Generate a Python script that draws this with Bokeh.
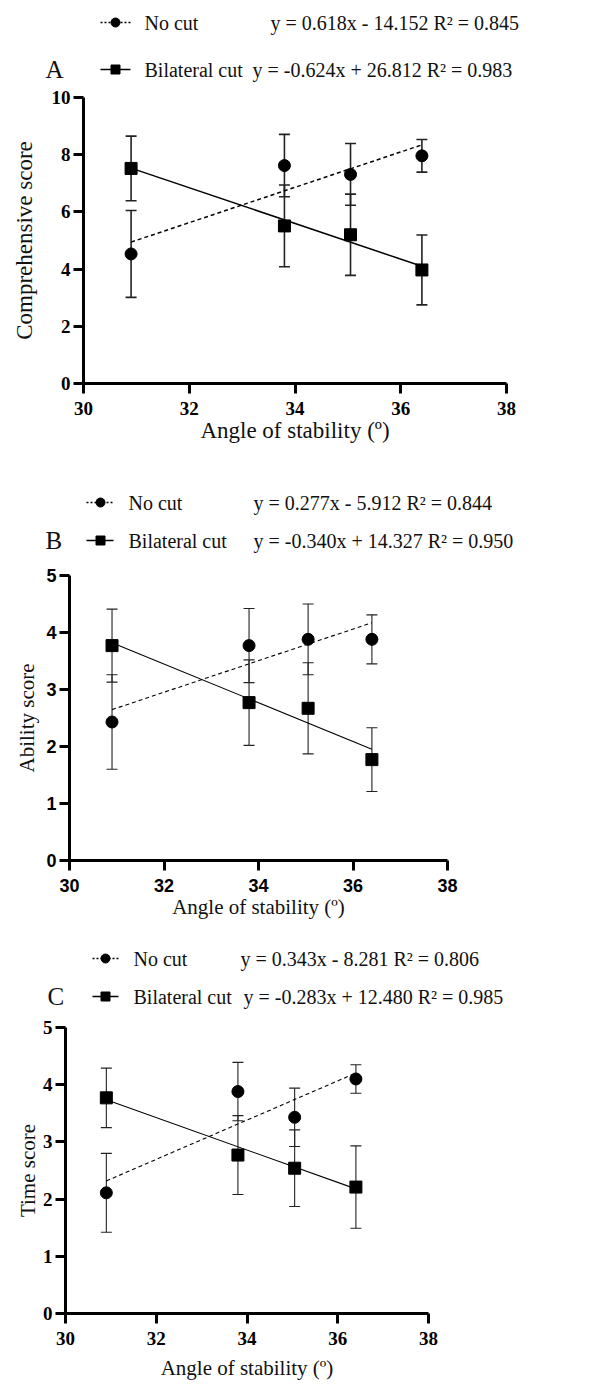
from bokeh.plotting import figure
from bokeh.models import Range1d, Whisker, TeeHead, ColumnDataSource, FixedTicker
from bokeh.layouts import column, row
from bokeh.embed import file_html
from bokeh.resources import INLINE
from bokeh.core.properties import value

# ---------------- data ----------------
angle = [30.9, 33.8, 35.05, 36.4]
series_names = ["No cut", "Bilateral cut"]

# Panel A: comprehensive score
a_nocut_mean = [4.53, 7.62, 7.31, 7.96]
a_nocut_sd = [1.52, 1.09, 1.08, 0.57]
a_bilat_mean = [7.52, 5.51, 5.20, 3.97]
a_bilat_sd = [1.13, 1.43, 1.42, 1.22]
a_fit_nocut = (0.618, -14.152)
a_fit_bilat = (-0.624, 26.812)
a_eq = ["y = 0.618x - 14.152  R\u00b2 = 0.845", "y = -0.624x + 26.812 R\u00b2 = 0.983"]

# Panel B: ability score
b_nocut_mean = [2.43, 3.77, 3.88, 3.88]
b_nocut_sd = [0.83, 0.65, 0.62, 0.43]
b_bilat_mean = [3.77, 2.77, 2.67, 1.77]
b_bilat_sd = [0.64, 0.75, 0.80, 0.56]
b_fit_nocut = (0.277, -5.912)
b_fit_bilat = (-0.340, 14.327)
b_eq = ["y = 0.277x - 5.912 R\u00b2 = 0.844", "y = -0.340x + 14.327 R\u00b2 = 0.950"]

# Panel C: time score
c_nocut_mean = [2.11, 3.88, 3.43, 4.10]
c_nocut_sd = [0.69, 0.51, 0.51, 0.25]
c_bilat_mean = [3.77, 2.77, 2.54, 2.21]
c_bilat_sd = [0.52, 0.69, 0.67, 0.72]
c_fit_nocut = (0.343, -8.281)
c_fit_bilat = (-0.283, 12.480)
c_eq = ["y = 0.343x - 8.281 R\u00b2 = 0.806", "y = -0.283x + 12.480 R\u00b2 = 0.985"]

x_ticks = [30, 32, 34, 36, 38]
x_label = "Angle of stability (\u00ba)"

SERIF = "Liberation Serif"
SANS = "Liberation Sans"


def make_legend(h, letter, letter_x, rows_y, mark_x, line_x0, line_x1, text_x, eq_x, eqs):
    p = figure(width=594, height=h, x_range=Range1d(0, 594), y_range=Range1d(h, 0),
               output_backend="svg", toolbar_location=None, min_border=0,
               x_axis_location=None, y_axis_location=None)
    p.grid.visible = False
    p.outline_line_color = None
    dashes = ["2 2", "solid"]
    markers = ["circle", "square"]
    for i in range(2):
        p.line([line_x0, line_x1], [rows_y[i], rows_y[i]], line_color="black",
               line_width=1.3, line_dash=dashes[i])
        p.scatter([mark_x], [rows_y[i]], marker=markers[i], size=9, color="black")
    p.text(x=[text_x, text_x], y=rows_y, text=series_names, text_font=value(SERIF),
           text_font_size="20px", text_baseline="middle", text_color="#111111")
    p.text(x=eq_x, y=rows_y, text=eqs, text_font=value(SERIF),
           text_font_size="20px", text_baseline="middle", text_color="#111111")
    p.text(x=[letter_x], y=[rows_y[1]], text=[letter], text_font=value(SERIF),
           text_font_size="25px", text_baseline="middle", text_color="#111111")
    return p


def make_plot(h, ymax, ystep, ylabel, nc_m, nc_sd, bc_m, bc_sd, fit_nc, fit_bc,
              tick_font, tick_size, label_size, b_top, b_left, b_right, b_bottom,
              ylab_standoff, xtick_standoff, xlab_standoff, lw_err, lw_fit):
    p = figure(width=594, height=h, x_range=Range1d(30, 38), y_range=Range1d(0, ymax),
               output_backend="svg", toolbar_location=None,
               min_border_top=b_top, min_border_left=b_left,
               min_border_right=b_right, min_border_bottom=b_bottom)
    p.grid.visible = False
    p.outline_line_color = None
    p.xaxis.ticker = FixedTicker(ticks=x_ticks)
    p.yaxis.ticker = FixedTicker(ticks=list(range(0, ymax + 1, ystep)))
    for ax in (p.xaxis[0], p.yaxis[0]):
        ax.axis_line_width = 3
        ax.axis_line_color = "black"
        ax.major_tick_line_width = 3
        ax.major_tick_line_color = "black"
        ax.major_tick_in = 0
        ax.major_tick_out = 10
        ax.minor_tick_line_color = None
        ax.major_label_text_font = tick_font
        ax.major_label_text_font_style = "bold"
        ax.major_label_text_font_size = tick_size
        ax.major_label_text_color = "black"
        ax.axis_label_text_font = SERIF
        ax.axis_label_text_font_style = "normal"
        ax.axis_label_text_font_size = label_size
        ax.axis_label_text_color = "#111111"
    p.xaxis.axis_label = x_label
    p.yaxis.axis_label = ylabel
    p.yaxis.major_label_standoff = 3
    p.xaxis.major_label_standoff = xtick_standoff
    p.yaxis.axis_label_standoff = ylab_standoff
    p.xaxis.axis_label_standoff = xlab_standoff

    # fitted lines
    x0, x1 = angle[0], angle[-1]
    p.line([x0, x1], [fit_nc[0] * x0 + fit_nc[1], fit_nc[0] * x1 + fit_nc[1]],
           line_color="black", line_width=lw_fit, line_dash="4 3")
    p.line([x0, x1], [fit_bc[0] * x0 + fit_bc[1], fit_bc[0] * x1 + fit_bc[1]],
           line_color="black", line_width=lw_fit)

    for m, sd, mk in ((nc_m, nc_sd, "circle"), (bc_m, bc_sd, "square")):
        src = ColumnDataSource(dict(x=angle, y=m,
                                    upper=[a + b for a, b in zip(m, sd)],
                                    lower=[a - b for a, b in zip(m, sd)]))
        w = Whisker(base="x", upper="upper", lower="lower", source=src,
                    dimension="height", line_width=lw_err, line_color="#222222",
                    upper_head=TeeHead(size=11, line_width=lw_err, line_color="#222222"),
                    lower_head=TeeHead(size=11, line_width=lw_err, line_color="#222222"))
        p.add_layout(w)
        p.scatter("x", "y", source=src, marker=mk, size=12, color="black")
    return p


legA = make_legend(85, "A", 45, [22, 69], 115, 100, 130, 144, [270, 252], a_eq)
plotA = make_plot(380, 10, 2, "Comprehensive score", a_nocut_mean, a_nocut_sd,
                  a_bilat_mean, a_bilat_sd, a_fit_nocut, a_fit_bilat,
                  SERIF, "19px", "23px", 12, 83, 88, 82, 12, 8, 0, 1.6, 1.5)

legB = make_legend(95, "B", 45, [37, 75], 100, 86, 113, 128, [253, 253], b_eq)
plotB = make_plot(380, 5, 1, "Ability score", b_nocut_mean, b_nocut_sd,
                  b_bilat_mean, b_bilat_sd, b_fit_nocut, b_fit_bilat,
                  SANS, "18px", "21px", 15, 69, 147, 80, 4, 8, 0, 1.1, 1.1)

legC = make_legend(75, "C", 47, [18, 56], 105, 92, 118, 133, [240, 243], c_eq)
plotC = make_plot(372, 5, 1, "Time score", c_nocut_mean, c_nocut_sd,
                  c_bilat_mean, c_bilat_sd, c_fit_nocut, c_fit_bilat,
                  SERIF, "19px", "21px", 12, 65, 166, 74, 0, 8, 8, 1.1, 1.1)

# wrap each figure in its own row so the column does not align their frames
layout = column(*[row(f) for f in (legA, plotA, legB, plotB, legC, plotC)], spacing=0)
open("out.html", "w").write(file_html(layout, INLINE))
